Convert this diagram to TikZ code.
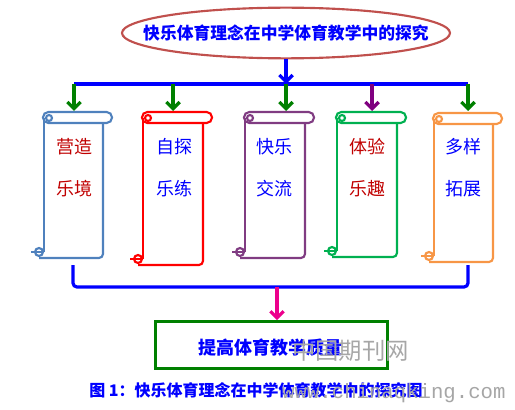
\documentclass[tikz,border=0pt]{standalone}
\usepackage{fontspec}
\newfontfamily\cjk{Noto Sans CJK SC}
\newfontfamily\wmono{Liberation Mono}
\usetikzlibrary{shapes, arrows.meta, positioning, calc}
\definecolor{titlered}{RGB}{192, 80, 77}
\definecolor{textred}{RGB}{192, 0, 0}
\definecolor{scrollblue}{RGB}{79, 129, 189}
\definecolor{scrollpurple}{RGB}{128, 60, 130}
\definecolor{scrollgreen}{RGB}{0, 176, 80}
\definecolor{scrollorange}{RGB}{247, 150, 70}
\definecolor{arrowgreen}{RGB}{0, 128, 0}
\definecolor{arrowpurple}{RGB}{128, 0, 128}
\newcommand\scrollshape[5]{%
  \begin{scope}[color=#5, line width=1.6pt]
    \draw[rounded corners=4pt] (#1,#3) rectangle (#2,#3+11);
    \draw (#1+1,#3+6) -- (#1+1,#4-6);
    \draw[rounded corners=3pt] (#1-4,#4) -- (#2-9,#4) -- (#2-9,#3+11);
    \draw (#1+6,#3+6) circle[radius=3];
    \draw[fill=white] (#1-4,#4-6) circle[radius=4];
    \draw (#1-12,#4-6) -- (#1,#4-6);
  \end{scope}}

\begin{document}
\begin{tikzpicture}[x=0.75pt, y=-0.75pt, >=Latex,
      link/.style={line width=2.4pt, -{Straight Barb[length=5pt, width=10pt]}},
      sc/.style={align=center, inner sep=0pt, font=\cjk\fontsize{13.5}{31.5}\selectfont},
      bt/.style={font=\cjk\bfseries\fontsize{13.5}{16}\selectfont, text=blue}]
    \useasboundingbox (0,0) rectangle (515,410);
    \node[draw=titlered, line width=1.6pt, ellipse, minimum width=246pt, minimum height=38pt,
          inner sep=0pt] (title) at (286,33) {};
    \node[bt, font=\cjk\bfseries\fontsize{12.6}{15}\selectfont] (tt) at (title.center) {快乐体育理念在中学体育教学中的探究};

    \scrollshape{43}{112}{112}{258}{scrollblue}
    \scrollshape{142}{212}{112}{265}{red}
    \scrollshape{244}{314}{112}{258}{scrollpurple}
    \scrollshape{336}{406}{112}{257}{scrollgreen}
    \scrollshape{433}{502}{113}{262}{scrollorange}

    \node[sc, text=textred] (t1) at (74,168) {营造\\乐境};
    \node[sc, text=blue] (t2) at (174,168) {自探\\乐练};
    \node[sc, text=blue] (t3) at (274,168) {快乐\\交流};
    \node[sc, text=textred] (t4) at (367,168) {体验\\乐趣};
    \node[sc, text=blue] (t5) at (463,168) {多样\\拓展};

    \coordinate (hl) at (74,84);
    \coordinate (hr) at (468,84);
    \coordinate (s1) at (74,111);
    \coordinate (s2) at (173,111);
    \coordinate (s3) at (286,111);
    \coordinate (s4) at (372,111);
    \coordinate (s5) at (468,111);
    \draw[blue, line width=2.6pt] (hl) -- (hr);
    \draw[link, blue] (title.south) -- (title.south |- hl);
    \draw[link, arrowgreen] (s1 |- hl) -- (s1);
    \draw[link, arrowgreen] (s2 |- hl) -- (s2);
    \draw[link, arrowgreen] (s3 |- hl) -- (s3);
    \draw[link, arrowpurple] (s4 |- hl) -- (s4);
    \draw[link, arrowgreen] (s5 |- hl) -- (s5);

    \node[draw=arrowgreen, line width=2.2pt, minimum width=174pt, minimum height=35pt] (goal) at (271.5,345) {};
    \node[bt] (gt) at (270,348) {提高体育教学质量};

    \coordinate (b1) at (73,265);
    \coordinate (b5) at (468,265);
    \coordinate (m) at (277,287);
    \draw[blue, line width=2.4pt, rounded corners=3pt] (b1) -- (b1 |- m) -- (b5 |- m) -- (b5);
    \draw[link, magenta] (m) -- (m |- goal.north);

    \node[font=\cjk\bfseries\fontsize{12}{14}\selectfont, text=blue] (cap) at (256,390) {图 1：快乐体育理念在中学体育教学中的探究图};

    \node[font=\cjk\fontsize{17.5}{20}\selectfont, text=gray!70, anchor=west, inner sep=0pt] (wm1) at (292,351) {中国期刊网};
    \node[font=\wmono\fontsize{15.5}{18}\selectfont, text=gray!70, anchor=west, inner sep=0pt] (wm2) at (282,393) {www.chinaqking.com};
  \end{tikzpicture}
\end{document}
